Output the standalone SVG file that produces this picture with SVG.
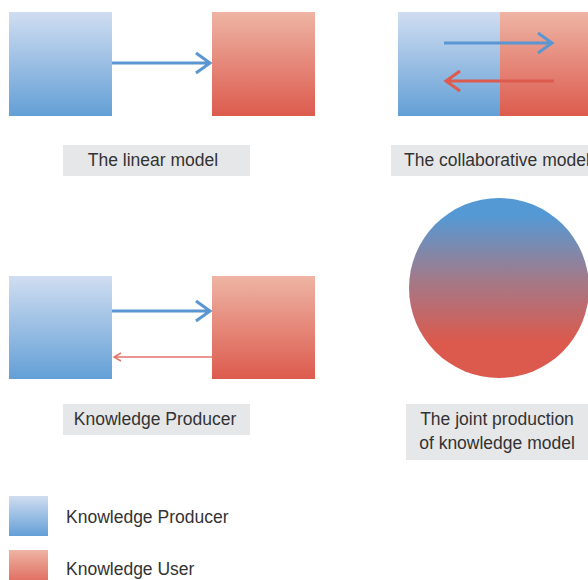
<svg xmlns="http://www.w3.org/2000/svg" width="588" height="580" viewBox="0 0 588 580">
<defs>
<linearGradient id="gb" x1="0" y1="0" x2="0" y2="1"><stop offset="0" stop-color="#d0ddf1"/><stop offset="1" stop-color="#639fd6"/></linearGradient>
<linearGradient id="gr" x1="0" y1="0" x2="0" y2="1"><stop offset="0" stop-color="#eeb4a4"/><stop offset="1" stop-color="#dc5b4e"/></linearGradient>
<linearGradient id="gc" x1="0" y1="0" x2="0" y2="1"><stop offset="0.1" stop-color="#5599d4"/><stop offset="0.45" stop-color="#a27a8a"/><stop offset="0.8" stop-color="#dc594d"/><stop offset="1" stop-color="#dc594d"/></linearGradient>
<style>
.lbl{fill:#e6e7e9}
.t{font-family:"Liberation Sans",Arial,sans-serif;font-size:17.5px;fill:#333}
.ab{stroke:#5a96d2;stroke-width:3;fill:none}
.ar{stroke:#dd5a4e;stroke-width:3;fill:none}
.ar2{stroke:#e2766a;stroke-width:1.5;fill:none}
</style>
</defs>
<g id="linear">
<rect x="9" y="12" width="103" height="104" fill="url(#gb)"/>
<rect x="212" y="12" width="103" height="104" fill="url(#gr)"/>
<rect class="lbl" x="63" y="145" width="187" height="31"/>
<text class="t" x="153" y="166" text-anchor="middle">The linear model</text>
</g>
<g id="collab">
<rect x="398" y="12" width="102" height="104" fill="url(#gb)"/>
<rect x="500" y="12" width="90" height="104" fill="url(#gr)"/>
<rect class="lbl" x="391" y="145" width="200" height="31"/>
<text class="t" x="404" y="166">The collaborative model</text>
</g>
<g id="feedback">
<rect x="9" y="276" width="103" height="103" fill="url(#gb)"/>
<rect x="212" y="276" width="103" height="103" fill="url(#gr)"/>
<rect class="lbl" x="63" y="404" width="187" height="31"/>
<text class="t" x="155" y="425" text-anchor="middle">Knowledge Producer</text>
</g>
<g id="joint">
<circle cx="499" cy="288" r="90" fill="url(#gc)"/>
<rect class="lbl" x="406" y="404" width="185" height="56"/>
<text class="t" x="497" y="425" text-anchor="middle">The joint production</text>
<text class="t" x="497" y="449" text-anchor="middle">of knowledge model</text>
</g>
<g id="legend">
<rect x="9" y="496" width="39" height="40" fill="url(#gb)"/>
<rect x="9" y="550" width="39" height="40" fill="url(#gr)"/>
<text class="t" x="66" y="523">Knowledge Producer</text>
<text class="t" x="66" y="575">Knowledge User</text>
</g>
<g id="connectors">
<path class="ab" d="M112 63H210M196 53L210 63L196 73"/>
<path class="ab" d="M444 43H552M538 33L552 43L538 53"/>
<path class="ar" d="M554 81H446M460 71L446 81L460 91"/>
<path class="ab" d="M112 311H210M196 301L210 311L196 321"/>
<path class="ar2" d="M212 357H114M121 353L114 357L121 361"/>
</g>
</svg>
